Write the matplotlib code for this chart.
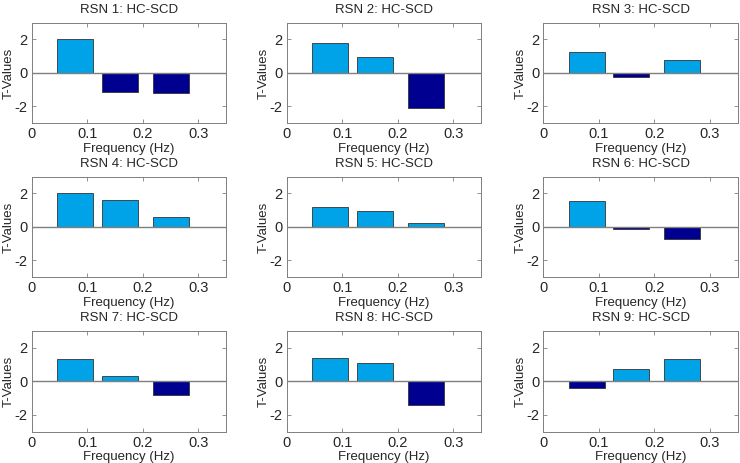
import matplotlib
matplotlib.use("Agg")
import matplotlib.pyplot as plt

titles = [f"RSN {i}: HC-SCD" for i in range(1, 10)]
freq_centers = [0.0785, 0.1585, 0.25]
t_values = [
    [2.03, -1.12, -1.19],
    [1.81, 0.93, -2.07],
    [1.25, -0.22, 0.76],
    [2.05, 1.61, 0.58],
    [1.21, 0.97, 0.26],
    [1.53, -0.12, -0.70],
    [1.35, 0.34, -0.84],
    [1.37, 1.11, -1.43],
    [-0.42, 0.72, 1.33],
]
xticks = [0, 0.1, 0.2, 0.3]
xticklabels = ["0", "0.1", "0.2", "0.3"]
yticks = [-2, 0, 2]
yticklabels = ["-2", "0", "2"]

plt.rcParams['font.family'] = ['Liberation Sans', 'DejaVu Sans']
W, H = 740, 463
fig = plt.figure(figsize=(W / 100, H / 100), dpi=100)

lefts = [31.7, 286.7, 543.3]
tops = [22.7, 176.7, 331.0]
aw, ah = 194.5, 100.5
pos_c = '#00a2e8'
neg_c = '#000090'
frame_c = '#7f7f7f'

for i, vals in enumerate(t_values):
    r, c = divmod(i, 3)
    ax = fig.add_axes([lefts[c] / W, 1 - (tops[r] + ah) / H, aw / W, ah / H])
    cols = [pos_c if v >= 0 else neg_c for v in vals]
    ax.bar(freq_centers, vals, width=0.065, color=cols, edgecolor='#333333', linewidth=0.6, zorder=2)
    ax.axhline(0, color='#7f7f7f', linewidth=1.0, zorder=3)
    ax.set_xlim(0, 0.35)
    ax.set_ylim(-3, 3)
    ax.set_xticks(xticks)
    ax.set_xticklabels(xticklabels)
    ax.set_yticks(yticks)
    ax.set_yticklabels(yticklabels)
    ax.tick_params(direction='in', top=True, right=True, length=3, width=0.6,
                   colors=frame_c, labelcolor='#262626', labelsize=10.5, pad=3)
    for s in ax.spines.values():
        s.set_color(frame_c)
        s.set_linewidth(0.7)
    ax.set_title(titles[i], fontsize=9.5, color='#262626', pad=7)
    ax.set_xlabel("Frequency (Hz)", fontsize=9.5, color='#262626', labelpad=1)
    ax.set_ylabel("T-Values", fontsize=9.5, color='#262626')
    ax.yaxis.set_label_coords(-16.5 / aw, 0.5)

fig.savefig("out.png", dpi=100, facecolor='white')
